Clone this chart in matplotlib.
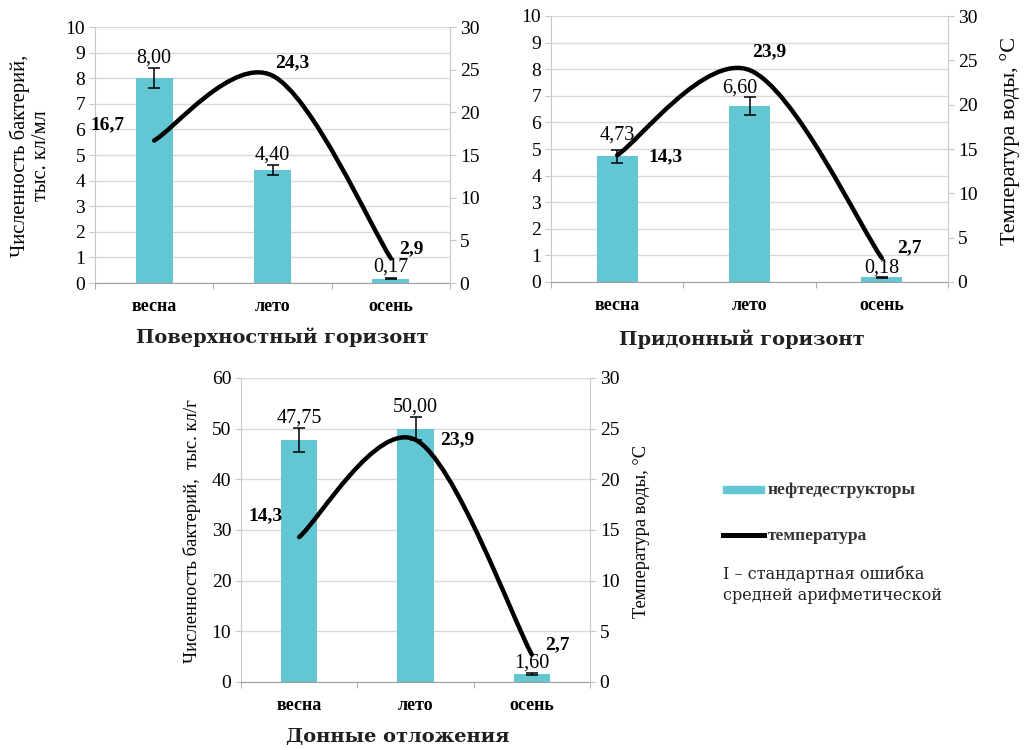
import numpy as np
import matplotlib.pyplot as plt
from matplotlib.path import Path
from matplotlib.patches import PathPatch, Rectangle
from matplotlib.lines import Line2D

plt.rcParams['font.family'] = ['Liberation Serif', 'DejaVu Serif']

seasons = ["весна", "лето", "осень"]

# поверхностный горизонт
surf_counts = [8.00, 4.40, 0.17]
surf_err = [0.40, 0.20, 0.02]
surf_temp = [16.7, 24.3, 2.9]

# придонный горизонт
bott_counts = [4.73, 6.60, 0.18]
bott_err = [0.24, 0.34, 0.02]
bott_temp = [14.3, 23.9, 2.7]

# донные отложения
sed_counts = [47.75, 50.00, 1.60]
sed_err = [2.40, 2.30, 0.12]
sed_temp = [14.3, 23.9, 2.7]

bar_color = "#62C6D3"
grid_color = "#D9D9D9"
spine_color = "#C8C8C8"
W, H = 1025, 750


def smooth_path(xs, ys):
    # сглаженная линия как в Excel: кубические Безье с касательными (P[i+1]-P[i-1])/6
    pts = np.column_stack([xs, ys]).astype(float)
    n = len(pts)
    verts = [pts[0]]
    codes = [Path.MOVETO]
    for i in range(n - 1):
        p_prev = pts[max(i - 1, 0)]
        p0, p1 = pts[i], pts[i + 1]
        p_next = pts[min(i + 2, n - 1)]
        c1 = p0 + (p1 - p_prev) / 6
        c2 = p1 - (p_next - p0) / 6
        verts += [c1, c2, p1]
        codes += [Path.CURVE4] * 3
    return Path(verts, codes)


def panel(rect, counts, err, temps, ymax, ystep, bar_offs, temp_offs):
    ax = fig.add_axes(rect)
    x = np.arange(len(seasons))
    ax.bar(x, counts, width=0.31, color=bar_color, zorder=2)
    ax.errorbar(x, counts, yerr=err, fmt="none", ecolor="black",
                elinewidth=1.1, capsize=4, capthick=1.1, zorder=3)
    ax.set_xlim(-0.5, 2.5)
    ax.set_ylim(0, ymax)
    ax.set_yticks(np.arange(0, ymax + ystep / 2, ystep))
    ax.grid(axis="y", color=grid_color, lw=1.0, zorder=0)
    ax.set_axisbelow(True)
    ax.set_xticks(x)
    ax.set_xticklabels(seasons, fontweight="bold", fontsize=13)
    ax.set_xticks([-0.5, 0.5, 1.5, 2.5], minor=True)
    ax.tick_params(axis="x", which="major", length=0, pad=11)
    ax.tick_params(axis="x", which="minor", length=4, color="#A0A0A0", direction="out")
    ax.tick_params(axis="y", length=4, color=spine_color, labelsize=14, pad=3)
    ax.spines["top"].set_visible(False)
    ax.spines["right"].set_visible(False)
    ax.spines["left"].set_color(spine_color)
    ax.spines["bottom"].set_color("#A0A0A0")
    for i, v in enumerate(counts):
        dx, dy = bar_offs[i]
        ax.annotate(f"{v:.2f}".replace(".", ","), (x[i], v), xytext=(dx, dy),
                    textcoords="offset pixels", ha="center", va="center", fontsize=14.5)

    ax2 = ax.twinx()
    ax2.set_ylim(0, 30)
    ax2.set_yticks(np.arange(0, 31, 5))
    ax2.tick_params(axis="y", length=4, color=spine_color, labelsize=14, pad=3)
    for s in ["top", "left", "bottom"]:
        ax2.spines[s].set_visible(False)
    ax2.spines["right"].set_color(spine_color)
    ax2.add_patch(PathPatch(smooth_path(x, temps), fill=False, lw=3.2,
                            color="black", capstyle="round", zorder=4))
    for i, t in enumerate(temps):
        dx, dy = temp_offs[i]
        ax2.annotate(f"{t:.1f}".replace(".", ","), (x[i], t), xytext=(dx, dy),
                     textcoords="offset pixels", ha="center", va="center",
                     fontsize=14, fontweight="bold")
    return ax, ax2


fig = plt.figure(figsize=(W / 100, H / 100), dpi=100)


def frac(x0, y0, x1, y1):
    return [x0 / W, 1 - y1 / H, (x1 - x0) / W, (y1 - y0) / H]


panel(frac(95, 27, 450, 283), surf_counts, surf_err, surf_temp, 10, 1,
      [(0, 20), (0, 15), (0, 12)], [(-47, 16), (20, 13), (21, 10)])
panel(frac(551, 16, 948, 282), bott_counts, bott_err, bott_temp, 10, 1,
      [(0, 21), (-10, 18), (0, 9)], [(48, -2), (20, 18), (28, 10)])
panel(frac(241, 378, 590, 682), sed_counts, sed_err, sed_temp, 60, 10,
      [(0, 22), (0, 22), (0, 11)], [(-34, 21), (42, 0), (26, 10)])

# подписи осей
fig.text(30 / W, 1 - 156 / H, "Численность бактерий,\nтыс. кл/мл", rotation=90,
         ha="center", va="center", fontsize=14.8, linespacing=1.15)
fig.text(1010 / W, 1 - 141 / H, "Температура воды, °С", rotation=90,
         ha="center", va="center", fontsize=16)
fig.text(192 / W, 1 - 531 / H, "Численность бактерий,  тыс. кл/г", rotation=90,
         ha="center", va="center", fontsize=13.4)
fig.text(642 / W, 1 - 531 / H, "Температура воды, °С", rotation=90,
         ha="center", va="center", fontsize=13.3)

# заголовки панелей
title_kw = dict(ha="center", va="center", fontsize=14, fontweight="bold",
                family="DejaVu Serif", color="#231F20")
fig.text(282 / W, 1 - 337 / H, "Поверхностный горизонт", **title_kw)
fig.text(742 / W, 1 - 339 / H, "Придонный горизонт", **title_kw)
fig.text(398 / W, 1 - 737 / H, "Донные отложения", **title_kw)

# легенда
fig.patches.append(Rectangle((723 / W, 1 - 493 / H), 41 / W, 7 / H,
                             transform=fig.transFigure, color=bar_color))
fig.lines.append(Line2D([723 / W, 764 / W], [1 - 535 / H, 1 - 535 / H],
                        transform=fig.transFigure, color="black", lw=3.6))
fig.text(768 / W, 1 - 490 / H, "нефтедеструкторы", ha="left", va="center",
         fontsize=12.5, fontweight="bold", color="#333333")
fig.text(768 / W, 1 - 536 / H, "температура", ha="left", va="center",
         fontsize=12.5, fontweight="bold", color="#333333")
fig.text(723 / W, 1 - 585 / H, "I – стандартная ошибка\nсредней арифметической",
         ha="left", va="center", fontsize=11.5, family="DejaVu Serif",
         color="#231F20", linespacing=1.3)

fig.savefig("out.png", dpi=100)
